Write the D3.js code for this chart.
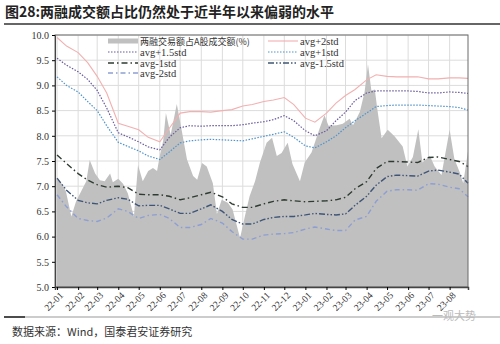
<!DOCTYPE html>
<html>
<head>
<meta charset="utf-8">
<script src="https://cdn.jsdelivr.net/npm/d3@7"></script>
<style>
  body { margin: 0; background: #fff; }
  svg { display: block; }
  .tick text { font-family: "Liberation Serif", "Times New Roman", serif; }
</style>
</head>
<body>
<div id="chart"></div>
<script>
// data
var areaDates = ["2021-12-31","2022-01-08","2022-01-14","2022-01-22","2022-01-29","2022-02-04","2022-02-13","2022-02-18","2022-02-26",
  "2022-03-05","2022-03-12","2022-03-20","2022-03-24","2022-04-01","2022-04-08","2022-04-15","2022-04-24","2022-04-30",
  "2022-05-07","2022-05-15","2022-05-22","2022-05-28","2022-06-01","2022-06-06","2022-06-10","2022-06-17","2022-06-26",
  "2022-07-02","2022-07-06","2022-07-11","2022-07-20","2022-07-26","2022-08-02","2022-08-09","2022-08-18","2022-08-24",
  "2022-08-31","2022-09-09","2022-09-16","2022-09-27","2022-10-04","2022-10-11","2022-10-19","2022-10-26","2022-11-05",
  "2022-11-13","2022-11-20","2022-11-27","2022-12-06","2022-12-13","2022-12-24","2022-12-31","2023-01-10","2023-01-22",
  "2023-01-29","2023-02-04","2023-02-16","2023-02-25","2023-03-07","2023-03-12","2023-03-22","2023-03-29","2023-04-03",
  "2023-04-08","2023-04-13","2023-04-17","2023-04-23","2023-05-02","2023-05-12","2023-05-24","2023-05-31","2023-06-08",
  "2023-06-16","2023-06-22","2023-07-03","2023-07-10","2023-07-20","2023-08-01","2023-08-08","2023-08-16","2023-08-21","2023-08-28"];
var ratio = [7.15,7.05,6.9,6.4,6.7,6.86,7.1,7.52,7.25,
  7.12,7.1,7.25,7.08,7.15,7.05,6.86,6.4,7.42,
  7.1,7.3,7.36,7.3,7.6,7.9,8.45,8.02,8.63,
  8.2,7.9,7.53,7.2,7.13,7.46,7.39,7.06,6.45,
  6.73,6.67,6.54,5.97,6.4,6.8,7.1,7.46,7.86,
  7.96,7.6,7.66,7.86,7.44,7.1,7.47,7.67,8.15,
  8.41,8.2,8.21,8.24,8.34,8.21,8.47,8.87,9.42,
  8.9,8.92,8.5,7.95,8.12,7.99,7.79,7.39,7.58,
  8.13,7.47,7.6,7.39,7.22,8.12,7.54,7.27,7.06,7.7];

var lineDates = [];
["2022","2023"].forEach(function(y) {
  ["01","02","03","04","05","06","07","08","09","10","11","12"].forEach(function(m) {
    if (y == "2023" && +m > 8) return;
    lineDates.push(y + "-" + m + "-01", y + "-" + m + "-15");
  });
});
lineDates.push("2023-08-28");

var plus2 = [9.95,9.78,9.65,9.45,9.18,8.85,8.25,8.19,8.12,7.97,7.88,8.15,8.45,8.48,8.48,8.47,8.5,8.52,8.59,8.62,
  8.68,8.71,8.76,8.62,8.35,8.27,8.45,8.65,8.8,8.92,9.11,9.21,9.18,9.17,9.17,9.17,9.13,9.13,9.15,9.15,9.14];
var plus15 = [9.54,9.4,9.27,9.12,8.9,8.55,8.06,7.98,7.88,7.78,7.72,7.97,8.16,8.2,8.19,8.2,8.2,8.2,8.22,8.25,
  8.28,8.32,8.4,8.3,8.1,8.0,8.1,8.3,8.47,8.7,8.85,8.89,8.89,8.89,8.89,8.88,8.85,8.85,8.87,8.86,8.84];
var plus1 = [9.17,9.0,8.87,8.68,8.5,8.2,7.87,7.79,7.7,7.6,7.53,7.68,7.86,7.9,7.92,7.93,7.92,7.91,7.9,7.94,
  7.99,8.03,8.08,7.97,7.8,7.76,7.88,8.0,8.16,8.3,8.45,8.58,8.6,8.61,8.61,8.61,8.6,8.59,8.58,8.56,8.51];
var minus1 = [7.62,7.45,7.25,7.12,7.03,6.98,7.0,6.97,6.84,6.83,6.83,6.8,6.73,6.77,6.83,6.88,6.79,6.65,6.58,6.58,
  6.65,6.7,6.73,6.71,6.69,6.7,6.71,6.73,6.78,6.95,7.09,7.35,7.49,7.49,7.48,7.47,7.57,7.58,7.53,7.49,7.39];
var minus15 = [7.16,6.92,6.72,6.67,6.65,6.72,6.77,6.74,6.61,6.62,6.62,6.55,6.46,6.46,6.55,6.63,6.5,6.34,6.25,6.25,
  6.34,6.38,6.4,6.4,6.43,6.46,6.44,6.43,6.45,6.62,6.8,7.02,7.19,7.22,7.21,7.2,7.3,7.32,7.28,7.24,7.06];
var minus2 = [6.83,6.59,6.36,6.32,6.3,6.37,6.55,6.5,6.36,6.42,6.44,6.36,6.18,6.18,6.24,6.36,6.27,6.1,5.95,5.95,
  6.03,6.05,6.06,6.08,6.15,6.19,6.15,6.12,6.12,6.33,6.4,6.7,6.9,6.93,6.93,6.92,7.05,7.04,6.98,6.95,6.79];

var areaName = "两融交易额占A股成交额(%)";
var seriesNames = ["avg+2std","avg+1.5std","avg+1std","avg-1std","avg-1.5std","avg-2std"];
var yTicks = [5.0,5.5,6.0,6.5,7.0,7.5,8.0,8.5,9.0,9.5,10.0];

var svgWidth = 500, svgHeight = 344;
var margin = { top: 35, right: 32, bottom: 57, left: 55 };
var width = svgWidth - margin.left - margin.right;
var height = svgHeight - margin.top - margin.bottom;

var svg = d3.select("#chart").append("svg")
  .attr("width", svgWidth)
  .attr("height", svgHeight);

// title
svg.append("text")
  .attr("x", 5).attr("y", 17)
  .attr("font-family", "Noto Sans CJK SC")
  .attr("font-weight", "bold")
  .attr("font-size", 14)
  .attr("fill", "#222")
  .text("图28:两融成交额占比仍然处于近半年以来偏弱的水平");
svg.append("line")
  .attr("x1", 4).attr("x2", 500).attr("y1", 24).attr("y2", 24)
  .attr("stroke", "#333").attr("stroke-width", 1.5);

var parse = d3.timeParse("%Y-%m-%d");
var chartGroup = svg.append("g")
  .attr("transform", `translate(${margin.left}, ${margin.top})`);

var xScale = d3.scaleTime()
  .domain([parse("2021-12-29"), parse("2023-08-28")])
  .range([0, width]);
var yScale = d3.scaleLinear()
  .domain([5, 10])
  .range([height, 0]);

var months = d3.timeMonth.range(parse("2022-01-01"), parse("2023-08-02"));

// grid
chartGroup.append("g").selectAll("line.h")
  .data(yTicks).enter().append("line")
  .attr("x1", 0).attr("x2", width)
  .attr("y1", d => yScale(d)).attr("y2", d => yScale(d))
  .attr("stroke", "#dcdcdc").attr("stroke-width", 1);
chartGroup.append("g").selectAll("line.v")
  .data(months).enter().append("line")
  .attr("x1", d => xScale(d)).attr("x2", d => xScale(d))
  .attr("y1", 0).attr("y2", height)
  .attr("stroke", "#dcdcdc").attr("stroke-width", 1);

// area
var areaData = areaDates.map((d, i) => ({ date: parse(d), v: ratio[i] }));
chartGroup.append("path")
  .datum(areaData)
  .attr("fill", "#c0c0c0")
  .attr("d", d3.area().x(d => xScale(d.date)).y0(height).y1(d => yScale(d.v)));

// band lines
var styles = [
  { color: "#f2b0b0", width: 1.1, dash: null },
  { color: "#6a5a9c", width: 1.2, dash: "1.5,1.5" },
  { color: "#4f93cc", width: 1.2, dash: "1.5,1.5" },
  { color: "#2e3b32", width: 1.4, dash: "6,3,1.5,3" },
  { color: "#3f5577", width: 1.4, dash: "6,2,1.5,2,1.5,2" },
  { color: "#8d9fd2", width: 1.4, dash: "5,3,1.5,3" }
];
var bands = [plus2, plus15, plus1, minus1, minus15, minus2];
var line = d3.line().x(d => xScale(d.date)).y(d => yScale(d.v));
bands.forEach(function(vals, k) {
  var pts = lineDates.map((d, i) => ({ date: parse(d), v: vals[i] }));
  chartGroup.append("path")
    .datum(pts)
    .attr("fill", "none")
    .attr("stroke", styles[k].color)
    .attr("stroke-width", styles[k].width)
    .attr("stroke-dasharray", styles[k].dash)
    .attr("d", line);
});

// frame
chartGroup.append("rect")
  .attr("width", width).attr("height", height)
  .attr("fill", "none").attr("stroke", "#6a6a6a").attr("stroke-width", 1);

// axes
var yAxis = d3.axisLeft(yScale).tickValues(yTicks).tickFormat(d3.format(".1f")).tickSize(3);
chartGroup.append("g").call(yAxis)
  .call(g => g.select(".domain").attr("stroke", "#444"))
  .selectAll("text").attr("font-size", 10).attr("fill", "#333");

var xAxis = d3.axisBottom(xScale).tickValues(months).tickFormat(d3.timeFormat("%y-%m")).tickSize(3);
chartGroup.append("g")
  .attr("transform", `translate(0, ${height})`)
  .call(xAxis)
  .call(g => g.select(".domain").attr("stroke", "#444").attr("stroke-width", 1.5))
  .selectAll("text")
  .attr("font-size", 9.5).attr("fill", "#333")
  .attr("text-anchor", "end")
  .attr("dx", "-0.2em").attr("dy", "0.5em")
  .attr("transform", "rotate(-45)");

// legend
var legendItems = [
  { name: areaName, x: 53, y: 6, type: "area" },
  { name: seriesNames[0], x: 213, y: 6, k: 0 },
  { name: seriesNames[1], x: 53, y: 17, k: 1 },
  { name: seriesNames[2], x: 213, y: 17, k: 2 },
  { name: seriesNames[3], x: 53, y: 28, k: 3 },
  { name: seriesNames[4], x: 213, y: 28, k: 4 },
  { name: seriesNames[5], x: 53, y: 38, k: 5 }
];
var legend = chartGroup.append("g");
legendItems.forEach(function(it) {
  if (it.type == "area") {
    legend.append("rect").attr("x", it.x).attr("y", it.y - 2.5)
      .attr("width", 30).attr("height", 5).attr("fill", "#c0c0c0");
  } else {
    legend.append("line")
      .attr("x1", it.x).attr("x2", it.x + 30).attr("y1", it.y).attr("y2", it.y)
      .attr("stroke", styles[it.k].color).attr("stroke-width", styles[it.k].width)
      .attr("stroke-dasharray", styles[it.k].dash);
  }
  legend.append("text")
    .attr("x", it.x + 32).attr("y", it.y + 3.5)
    .attr("font-family", it.type == "area" ? "Noto Sans CJK SC" : "Liberation Serif")
    .attr("font-size", it.type == "area" ? 9 : 10.5)
    .attr("fill", "#333")
    .text(it.name);
});

// footer
svg.append("line")
  .attr("x1", 4).attr("x2", 500).attr("y1", 317).attr("y2", 317)
  .attr("stroke", "#999").attr("stroke-width", 1);
svg.append("line")
  .attr("x1", 4).attr("x2", 25).attr("y1", 317).attr("y2", 317)
  .attr("stroke", "#222").attr("stroke-width", 1.5);
svg.append("text")
  .attr("x", 12).attr("y", 336)
  .attr("font-family", "Noto Sans CJK SC")
  .attr("font-size", 11)
  .attr("fill", "#333")
  .text("数据来源：Wind，国泰君安证券研究");
svg.append("text")
  .attr("x", 432).attr("y", 320)
  .attr("font-family", "Noto Sans CJK SC")
  .attr("font-size", 11)
  .attr("fill", "#bbb")
  .text("一观大势");
</script>
</body>
</html>
